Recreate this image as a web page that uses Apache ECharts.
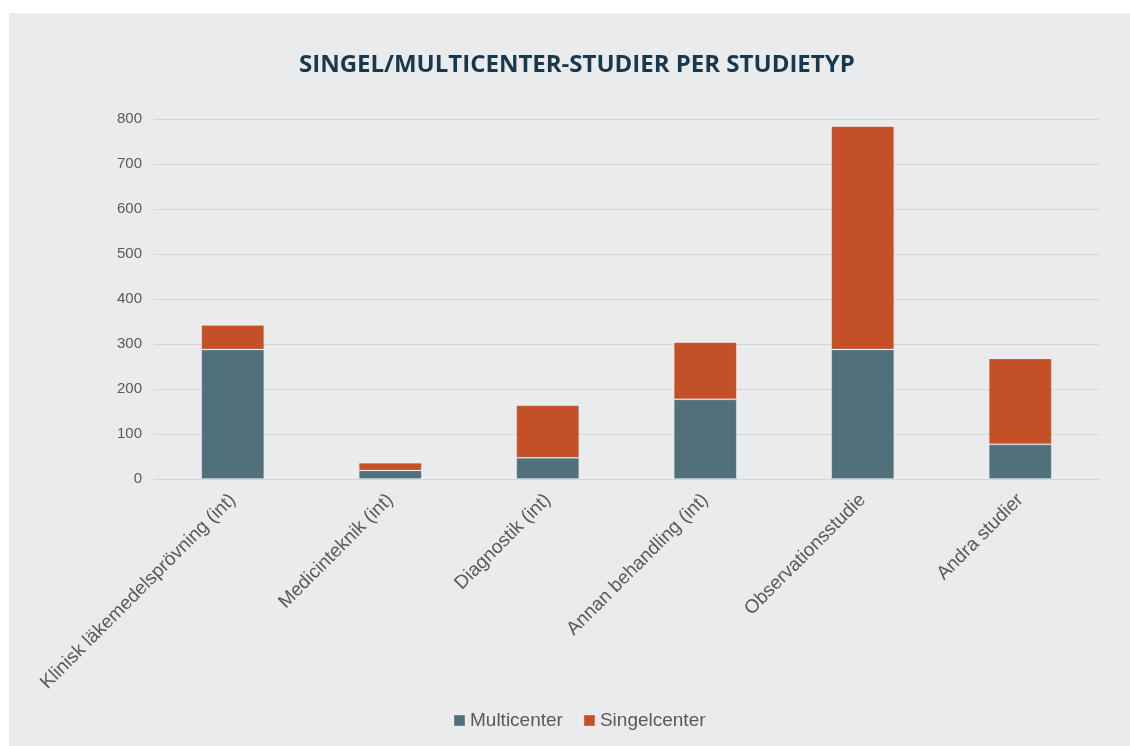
<!DOCTYPE html>
<html>
<head>
<meta charset="utf-8">
<script src="https://cdn.jsdelivr.net/npm/echarts@6/dist/echarts.min.js"></script>
<style>
html,body{margin:0;padding:0;background:#ffffff;}
#panel{position:absolute;left:9px;top:13px;width:1121px;height:733px;background:#eaebed;}
#chart{width:1121px;height:733px;}
</style>
</head>
<body>
<div id="panel"><div id="chart"></div></div>
<script>
const categories = ["Klinisk läkemedelsprövning (int)", "Medicinteknik (int)", "Diagnostik (int)", "Annan behandling (int)", "Observationsstudie", "Andra studier"];
const multicenter = [288, 19, 47, 177, 288, 77];
const singelcenter = [54, 17, 117, 127, 496, 191];
const seriesNames = ["Multicenter", "Singelcenter"];
const titleText = "SINGEL/MULTICENTER-STUDIER PER STUDIETYP";

const chart = echarts.init(document.getElementById('chart'));
chart.setOption({
  backgroundColor: 'transparent',
  animation: false,
  title: {
    text: titleText,
    left: 285,
    top: 35,
    textStyle: { fontFamily: 'Open Sans', fontWeight: 'bold', fontSize: 24, color: '#18394d' }
  },
  legend: {
    data: seriesNames,
    bottom: 11,
    left: 439,
    itemWidth: 11,
    itemHeight: 11,
    itemGap: 20,
    icon: 'rect',
    textStyle: { fontFamily: 'Liberation Sans, Arial', fontSize: 19, color: '#595959' }
  },
  grid: { left: 145, right: 31, top: 106, bottom: 267, containLabel: false },
  xAxis: {
    type: 'category',
    data: categories,
    axisLine: { lineStyle: { color: '#d4d5d8', width: 1 } },
    axisTick: { show: false },
    axisLabel: { rotate: 45, interval: 0, margin: 18, fontFamily: 'Liberation Sans, Arial', fontSize: 19, color: '#595959' }
  },
  yAxis: {
    type: 'value',
    min: 0, max: 800, interval: 100,
    axisLine: { show: false },
    axisTick: { show: false },
    splitLine: { lineStyle: { color: '#d4d5d8', width: 1 } },
    axisLabel: { margin: 12, fontFamily: 'Liberation Sans, Arial', fontSize: 15, color: '#595959' }
  },
  series: [
    { name: seriesNames[0], type: 'bar', stack: 'total', data: multicenter, barWidth: '40%',
      itemStyle: { color: '#50707c', borderColor: 'rgba(255,255,255,0.18)', borderWidth: 1 } },
    { name: seriesNames[1], type: 'bar', stack: 'total', data: singelcenter, barWidth: '40%',
      itemStyle: { color: '#c35027', borderColor: 'rgba(255,255,255,0.18)', borderWidth: 1 } }
  ]
});
</script>
</body>
</html>
